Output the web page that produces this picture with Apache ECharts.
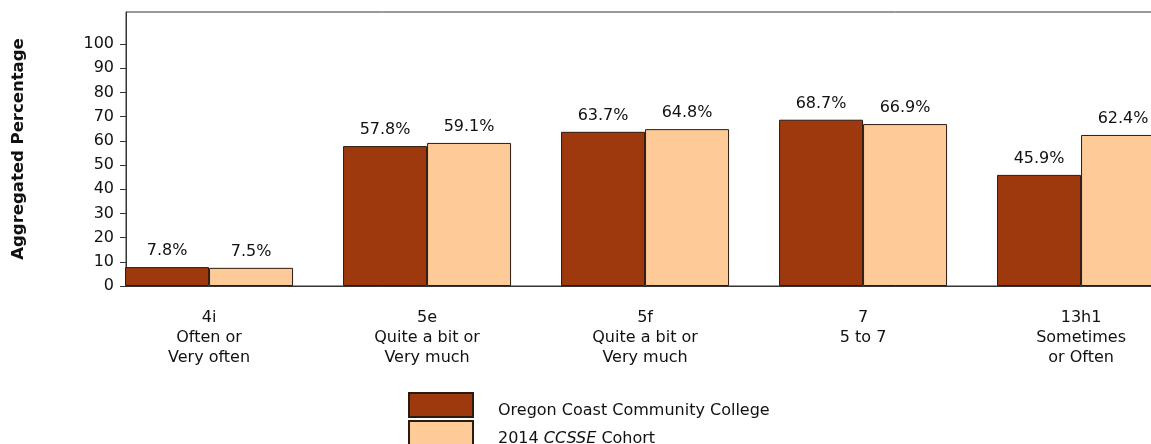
<!DOCTYPE html>
<html>
<head>
<meta charset="utf-8">
<script src="https://cdn.jsdelivr.net/npm/echarts@6/dist/echarts.min.js"></script>
<style>
html,body{margin:0;padding:0;background:#fff;}
#c{width:1151px;height:444px;}
</style>
</head>
<body>
<div id="c"></div>
<script>
const categories = ['4i\nOften or\nVery often', '5e\nQuite a bit or\nVery much', '5f\nQuite a bit or\nVery much', '7\n5 to 7', '13h1\nSometimes\nor Often'];
const collegeValues = [7.8, 57.8, 63.7, 68.7, 45.9];
const cohortValues = [7.5, 59.1, 64.8, 66.9, 62.4];
const yTickValues = [0, 10, 20, 30, 40, 50, 60, 70, 80, 90, 100];
const seriesNames = ['Oregon Coast Community College', '2014 CCSSE Cohort'];

const chart = echarts.init(document.getElementById('c'), null, {renderer: 'canvas'});
const FONT = '"DejaVu Sans", sans-serif';
const xPos = categories.map((_, i) => i);

function mk(name, vals, color) {
  return {
    name: name,
    type: 'bar',
    data: vals.map((v, i) => [xPos[i], v]),
    barWidth: 84,
    barGap: '0%',
    itemStyle: {color: color, borderColor: '#2a1a10', borderWidth: 1},
    label: {
      show: true, position: 'top', distance: 8,
      formatter: p => p.value[1].toFixed(1) + '%',
      fontFamily: FONT, fontSize: 16, color: '#111'
    },
    emphasis: {disabled: true}
  };
}

const legendText = {
  fontFamily: FONT, fontSize: 16, color: '#111', padding: [12, 0, 0, 20],
  rich: {
    n: {fontFamily: FONT, fontSize: 16, color: '#111'},
    i: {fontFamily: FONT, fontSize: 16, color: '#111', fontStyle: 'italic'}
  }
};
function mkLegend(idx, top) {
  return {
    orient: 'vertical',
    left: 408,
    top: top,
    padding: 0,
    itemWidth: 64,
    itemHeight: 24,
    icon: 'rect',
    data: [seriesNames[idx]],
    textStyle: legendText,
    formatter: name => name === seriesNames[1] ? '{n|2014 }{i|CCSSE}{n| Cohort}' : name,
    selectedMode: false
  };
}

chart.setOption({
  animation: false,
  backgroundColor: '#fff',
  grid: {left: 126, top: 12, width: 1100, bottom: 158, show: true, borderColor: '#333', borderWidth: 1, containLabel: false, outerBoundsMode: 'none'},
  xAxis: {
    type: 'value',
    min: -0.381,
    max: -0.381 + 1100 / 218,
    splitLine: {show: false},
    axisLine: {show: true, onZero: false, lineStyle: {color: '#333', width: 1}},
    axisTick: {show: false},
    axisLabel: {
      customValues: xPos,
      formatter: v => categories[Math.round(v)] || '',
      fontFamily: FONT, fontSize: 16, color: '#111', lineHeight: 20, margin: 22,
      align: 'center'
    }
  },
  yAxis: {
    type: 'value',
    min: 0,
    max: 113.2,
    name: 'Aggregated Percentage',
    nameLocation: 'middle',
    nameGap: 99,
    nameTextStyle: {fontFamily: FONT, fontSize: 16.5, fontWeight: 'bold', color: '#111'},
    splitLine: {show: false},
    axisLine: {show: true, onZero: false, lineStyle: {color: '#333', width: 1}},
    axisTick: {show: true, customValues: yTickValues, length: 6, lineStyle: {color: '#333'}},
    axisLabel: {customValues: yTickValues, fontFamily: FONT, fontSize: 16, color: '#111', margin: 12}
  },
  legend: [mkLegend(0, 392), mkLegend(1, 420)],
  series: [
    mk(seriesNames[0], collegeValues, '#9E390E'),
    mk(seriesNames[1], cohortValues, '#FECB98')
  ]
});
</script>
</body>
</html>
